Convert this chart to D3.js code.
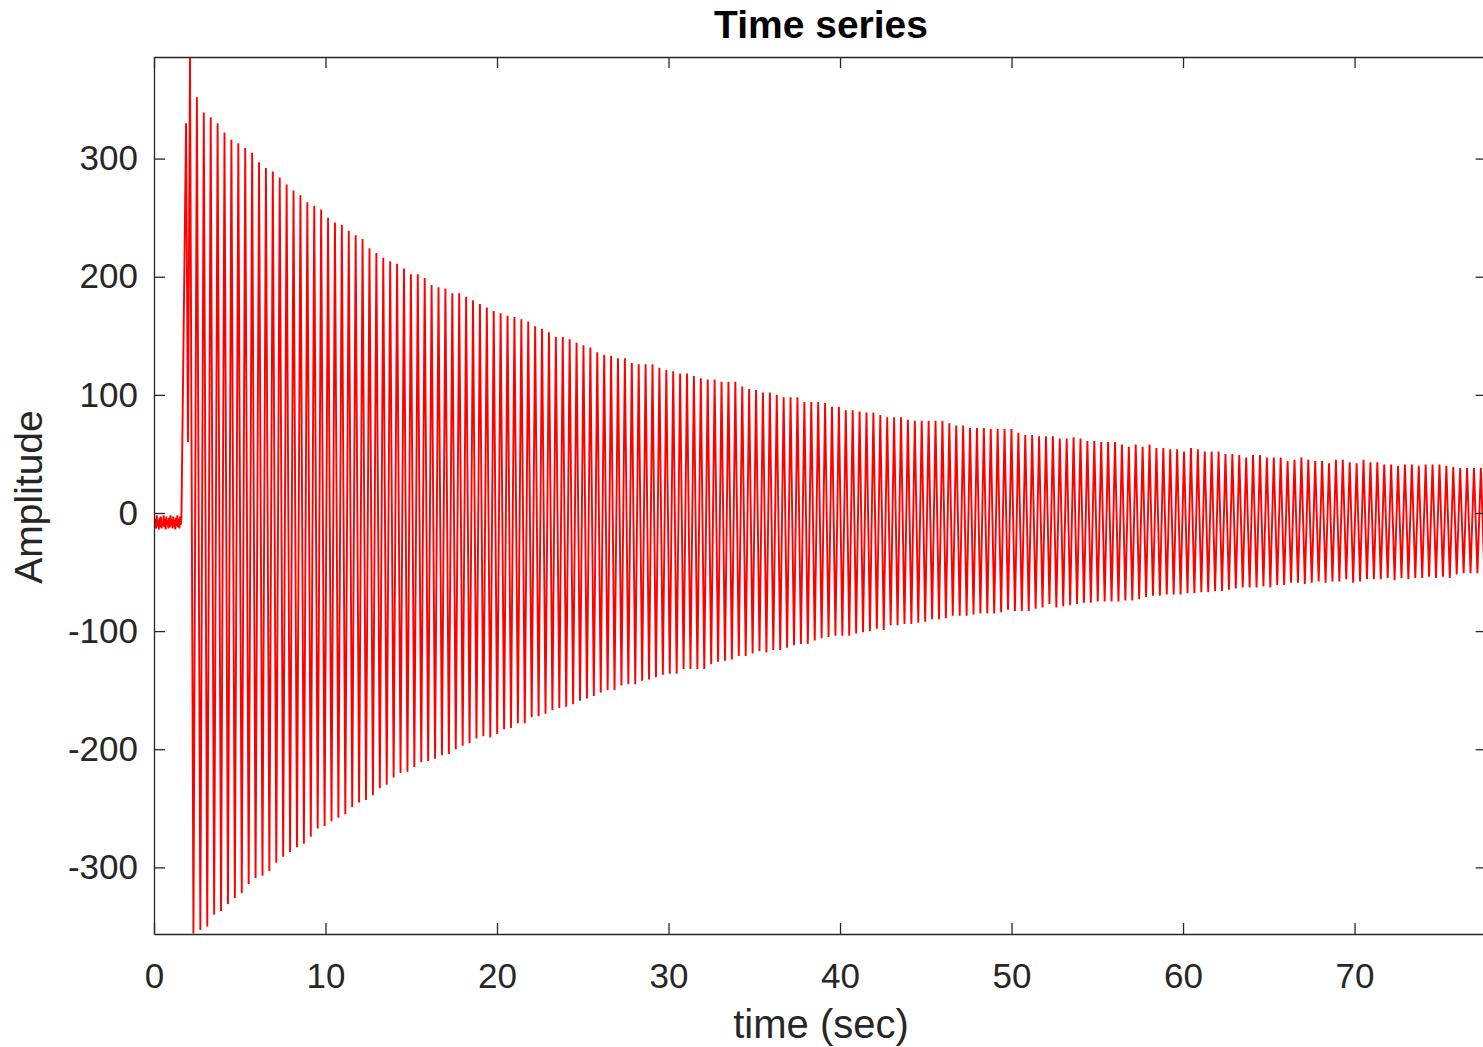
<!DOCTYPE html>
<html>
<head>
<meta charset="utf-8">
<script src="https://cdn.jsdelivr.net/npm/d3@7"></script>
<style>
  body { margin: 0; background: #fff; }
  text { font-family: "Liberation Sans", Arial, Helvetica, sans-serif; }
</style>
</head>
<body>
<script>
// ---- data ----
var xTicks = [0, 10, 20, 30, 40, 50, 60, 70];
var yTicks = [-300, -200, -100, 0, 100, 200, 300];
var xLimits = [0, 77.7];
var yLimits = [-356.4, 386];

// quiet part before the hit, sampled every noiseStep seconds
var noiseStep = 0.04;
var noiseValues = [-3,-12,-5,-13,-2,-11,-6,-14,-4,-12,-3,-13,-7,-11,-2,-12,-5,-14,-3,-10,
                   -6,-13,-4,-12,-2,-11,-5,-13,-3,-12,-6,-14,-4,-11,-2,-12,-5,-13,-3,-10];

// onset of the response
var onsetTimes = [1.60, 1.87, 1.98, 2.10];
var onsetValues = [-4, 330, 60, 386];

// ringing: one trough and one crest per cycle
var cycleStart = 2.30;
var cyclePeriod = 0.4025;
var troughs = [-356,-353,-350,-340,-337,-331,-326,-322,-314,-309,-307,-303,-296,-291,-287,-283,
  -280,-274,-267,-265,-261,-258,-255,-249,-245,-243,-239,-233,-230,-224,-220,-219,-215,-211,-210,-208,
  -205,-204,-200,-197,-195,-191,-189,-190,-187,-183,-182,-178,-178,-173,-172,-170,-167,-165,-164,-162,
  -159,-157,-155,-152,-150,-150,-146,-145,-145,-142,-141,-139,-137,-136,-136,-132,-132,-132,-132,-128,
  -126,-125,-124,-121,-121,-119,-117,-118,-116,-116,-114,-112,-111,-111,-108,-106,-105,-104,-104,-104,
  -102,-101,-100,-98,-99,-95,-95,-94,-94,-93,-92,-90,-90,-89,-87,-87,-87,-86,-85,-85,-85,-84,
  -82,-83,-83,-83,-81,-80,-77,-80,-79,-78,-77,-76,-76,-75,-75,-75,-75,-74,-74,-73,-71,-70,
  -70,-69,-69,-69,-68,-68,-67,-67,-66,-66,-65,-64,-63,-63,-63,-62,-63,-61,-61,-59,-59,-60,
  -59,-58,-59,-58,-58,-56,-59,-58,-56,-56,-56,-55,-57,-55,-56,-55,-55,-54,-55,-54,-55,-52,
  -51,-51,-51,-51];
var crests = [352,339,335,330,322,316,313,309,305,297,292,289,284,278,273,269,263,260,257,250,
  246,244,239,235,232,224,220,216,213,211,207,202,202,199,193,191,190,186,186,183,180,177,174,171,
  169,167,166,164,162,158,156,153,149,149,147,144,142,140,136,134,133,131,131,127,126,126,126,123,
  121,120,118,118,116,114,113,113,111,111,111,107,105,104,102,102,100,98,98,98,94,94,94,93,
  90,90,87,87,86,85,85,83,81,81,81,79,78,78,78,78,78,76,74,74,72,72,72,71,71,71,71,68,
  66,66,65,65,65,63,63,64,63,61,61,60,60,60,58,56,58,56,58,55,55,54,54,52,55,54,52,52,
  52,50,50,49,47,49,49,47,47,47,44,45,47,45,44,44,42,45,45,43,42,45,43,43,41,41,40,41,
  41,40,41,41,41,40,39,38,38,38,38];

// ---- build the sample table ----
var samples = [];
noiseValues.forEach(function(v, i){
  samples.push({t: i * noiseStep, v: v});
});
onsetTimes.forEach(function(t, i){
  samples.push({t: t, v: onsetValues[i]});
});
troughs.forEach(function(v, i){
  samples.push({t: cycleStart + i * cyclePeriod, v: v});
  if (i < crests.length){
    samples.push({t: cycleStart + (i + 0.5) * cyclePeriod, v: crests[i]});
  }
});

// ---- layout ----
var screen = {width: 1483, height: 1047};
var margins = {left: 154, top: 57};
var w = 1332.6;
var h = 877;
var axisColor = '#262626';

var svg = d3.select('body').append('svg')
            .attr('width', screen.width)
            .attr('height', screen.height);

var xScale = d3.scaleLinear().domain(xLimits).range([0, w]);
var yScale = d3.scaleLinear().domain(yLimits).range([h, 0]);

var plot = svg.append('g')
              .attr('transform', 'translate(' + margins.left + ',' + margins.top + ')');

plot.append('clipPath').attr('id', 'clip')
    .append('rect').attr('width', w).attr('height', h);

var line = d3.line()
             .x(function(d){ return xScale(d.t); })
             .y(function(d){ return yScale(d.v); });

plot.append('path')
    .datum(samples)
    .attr('clip-path', 'url(#clip)')
    .attr('d', line)
    .attr('fill', 'none')
    .attr('stroke', '#ff0000')
    .attr('stroke-width', 1.9)
    .attr('stroke-linejoin', 'bevel');

// plain hyphen for negatives, like the original
var plainFormat = function(d){ return String(d); };

// axes, ticks pointing inwards like the original
var styleAxis = function(g){
  g.selectAll('path, line').attr('stroke', axisColor).attr('stroke-width', 1.3);
  g.selectAll('text').attr('fill', axisColor).style('font-size', '35px');
};

plot.append('g')
    .attr('transform', 'translate(0,' + h + ')')
    .call(d3.axisBottom(xScale).tickValues(xTicks).tickFormat(plainFormat)
            .tickSizeInner(-11).tickSizeOuter(0).tickPadding(29))
    .call(styleAxis);
plot.append('g')
    .call(d3.axisTop(xScale).tickValues(xTicks).tickSizeInner(-11).tickSizeOuter(0).tickFormat(''))
    .call(styleAxis);
plot.append('g')
    .call(d3.axisLeft(yScale).tickValues(yTicks).tickFormat(plainFormat)
            .tickSizeInner(-11).tickSizeOuter(0).tickPadding(16))
    .call(styleAxis);
plot.append('g')
    .attr('transform', 'translate(' + w + ',0)')
    .call(d3.axisRight(yScale).tickValues(yTicks).tickSizeInner(-11).tickSizeOuter(0).tickFormat(''))
    .call(styleAxis);

// titles
svg.append('text')
   .attr('x', 821).attr('y', 38)
   .attr('text-anchor', 'middle')
   .attr('font-weight', 'bold')
   .attr('font-size', 39)
   .attr('fill', '#000')
   .text('Time series');

svg.append('text')
   .attr('x', 821).attr('y', 1038)
   .attr('text-anchor', 'middle')
   .attr('font-size', 40)
   .attr('fill', axisColor)
   .text('time (sec)');

svg.append('text')
   .attr('transform', 'translate(42,497) rotate(-90)')
   .attr('text-anchor', 'middle')
   .attr('font-size', 39)
   .attr('fill', axisColor)
   .text('Amplitude');
</script>
</body>
</html>
